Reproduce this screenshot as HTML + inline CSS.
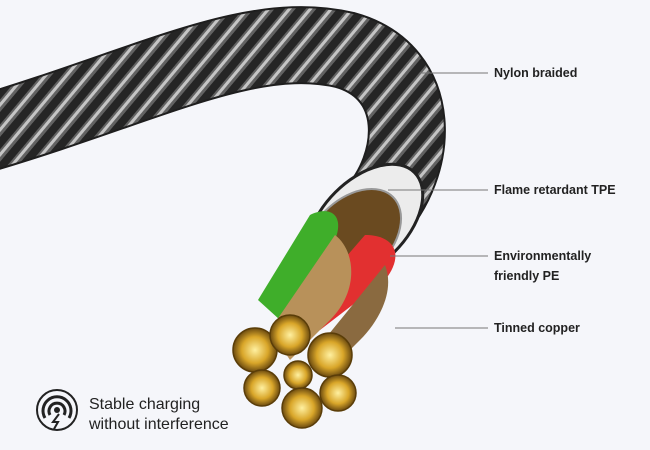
<!DOCTYPE html>
<html><head><meta charset="utf-8"><style>
body{margin:0;background:#f5f6fa;}
svg{display:block}
text{font-family:"Liberation Sans",sans-serif;}
</style></head><body>
<svg width="650" height="450" viewBox="0 0 650 450">
<rect width="650" height="450" fill="#f5f6fa"/>
<defs>
<pattern id="br" width="16" height="16" patternUnits="userSpaceOnUse" patternTransform="rotate(40)">
<rect width="16" height="16" fill="#262626"/>
<rect width="8" height="16" fill="#6a6a6a"/>
<rect x="2" width="3" height="16" fill="#d8d8d8"/>
</pattern>
<radialGradient id="gold" cx="50%" cy="50%" r="50%">
<stop offset="0" stop-color="#fff0a0"/><stop offset="0.6" stop-color="#d9a629"/><stop offset="1" stop-color="#6b4a10"/>
</radialGradient>
</defs>
<path d="M-20,135 C150,85 250,28 345,50 C425,72 420,165 372,215" fill="none" stroke="#1e1e1e" stroke-width="78"/>
<path d="M-20,135 C150,85 250,28 345,50 C425,72 420,165 372,215" fill="none" stroke="url(#br)" stroke-width="74" opacity="0.9"/>
<ellipse cx="365" cy="222" rx="70" ry="42" transform="rotate(-45 365 222)" fill="#ececec" stroke="#222" stroke-width="3"/>
<ellipse cx="352" cy="238" rx="58" ry="38" transform="rotate(-45 352 238)" fill="#6a4a20" stroke="#999" stroke-width="2"/>
<path d="M310,215 C330,205 345,215 335,240 L280,320 L258,300 Z" fill="#3fae2a"/>
<path d="M365,235 C395,235 405,255 385,280 L320,330 L300,310 Z" fill="#e23030"/>
<path d="M335,235 C355,250 360,290 330,320 L290,360 L270,330 Z" fill="#b8915a"/>
<path d="M385,265 C395,290 380,320 360,340 L340,360 L320,345 Z" fill="#8a6a40"/>
<g stroke="#5a3d08" stroke-width="1.5">
<circle cx="255" cy="350" r="22" fill="url(#gold)"/>
<circle cx="290" cy="335" r="20" fill="url(#gold)"/>
<circle cx="330" cy="355" r="22" fill="url(#gold)"/>
<circle cx="262" cy="388" r="18" fill="url(#gold)"/>
<circle cx="298" cy="375" r="14" fill="url(#gold)"/>
<circle cx="338" cy="393" r="18" fill="url(#gold)"/>
<circle cx="302" cy="408" r="20" fill="url(#gold)"/>
</g>
<g stroke="#777" stroke-width="1">
<line x1="420" y1="73" x2="488" y2="73"/>
<line x1="388" y1="190" x2="488" y2="190"/>
<line x1="390" y1="256" x2="488" y2="256"/>
<line x1="395" y1="328" x2="488" y2="328"/>
</g>
<g font-size="12.5" font-weight="bold" fill="#222">
<text x="494" y="77">Nylon braided</text>
<text x="494" y="194">Flame retardant TPE</text>
<text x="494" y="260">Environmentally</text>
<text x="494" y="280">friendly PE</text>
<text x="494" y="332">Tinned copper</text>
</g>
<circle cx="57" cy="410" r="20" fill="none" stroke="#222" stroke-width="2"/>
<path d="M45,418 A14,14 0 1 1 69,418" fill="none" stroke="#222" stroke-width="3"/>
<path d="M50,415 A8,8 0 1 1 64,415" fill="none" stroke="#222" stroke-width="3"/>
<circle cx="57" cy="410" r="3" fill="#222"/>
<path d="M59,414 L53,422 L58,422 L54,429" fill="none" stroke="#222" stroke-width="2"/>
<g font-size="16" fill="#222">
<text x="89" y="409">Stable charging</text>
<text x="89" y="429">without interference</text>
</g>
</svg>
</body></html>
